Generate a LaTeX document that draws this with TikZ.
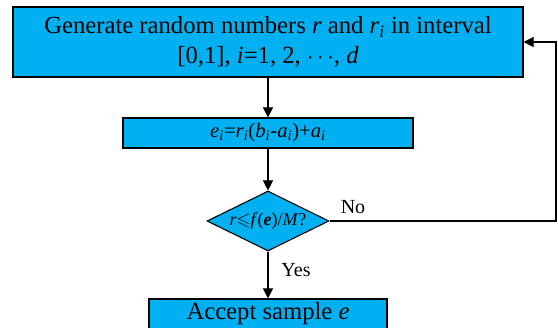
\documentclass[tikz,border=0pt]{standalone}
\usepackage{amssymb}
\usepackage{fontspec}
\setmainfont{Liberation Serif}
\usetikzlibrary{arrows.meta,shapes.geometric}
\newcommand{\vsub}[2]{\textit{#1}\textsubscript{\textit{#2}}}
\tikzset{
  procbox/.style={
    rectangle,
    draw,
    fill=flowblue,
    line width=0.8pt,
    inner sep=0pt,
    align=center
  },
  decbox/.style={
    diamond,
    draw,
    fill=flowblue,
    line width=0.8pt,
    inner sep=0pt,
    aspect=2
  },
  flow/.style={
    line width=0.8pt,
    -{Triangle[width=7.5pt,length=7.5pt]}
  }
}
\definecolor{flowblue}{RGB}{0,176,240}

\begin{document}
\begin{tikzpicture}[x=0.75pt,y=-0.75pt]
        \useasboundingbox (0,0) rectangle (558,328);
        \clip (0,0) rectangle (558,328);

        \node[procbox, minimum width=382.5pt, minimum height=52.5pt,
              font=\fontsize{18.5}{22.5}\selectfont] (gen) at (268,42)
             {Generate random numbers \textit{r} and \vsub{r}{i} in interval\\
              {[0,1]}, \textit{i}=1, 2, $\cdots$, \textit{d}};
        \node[procbox, minimum width=217.5pt, minimum height=22.5pt,
              font=\fontsize{15.5}{17}\selectfont] (map) at (268,133)
             {\vsub{e}{i}=\vsub{r}{i}(\vsub{b}{i}-\vsub{a}{i})+\vsub{a}{i}};
        \node[decbox, minimum width=91.5pt, minimum height=45pt,
              font=\fontsize{13.5}{15}\selectfont] (test) at (268,221)
             {\textit{r}$\leqslant$\textit{f}(\textbf{\textit{e}})/\textit{M}?};
        \node[procbox, minimum width=178.5pt, minimum height=22.5pt,
              font=\fontsize{18.5}{21}\selectfont] (acc) at (268,314)
             {Accept sample \textit{e}};

        \node[font=\fontsize{15}{17}\selectfont] (no) at (353,207) {No};
        \node[font=\fontsize{15}{17}\selectfont] (yes) at (296,270) {Yes};
        \coordinate (back) at (556,221);

        \draw[flow] (gen) -- (map);
        \draw[flow] (map) -- (test);
        \draw[flow] (test) -- (acc);
        \draw[flow] (test.east) -- (back) |- (gen.east);
\end{tikzpicture}
\end{document}
